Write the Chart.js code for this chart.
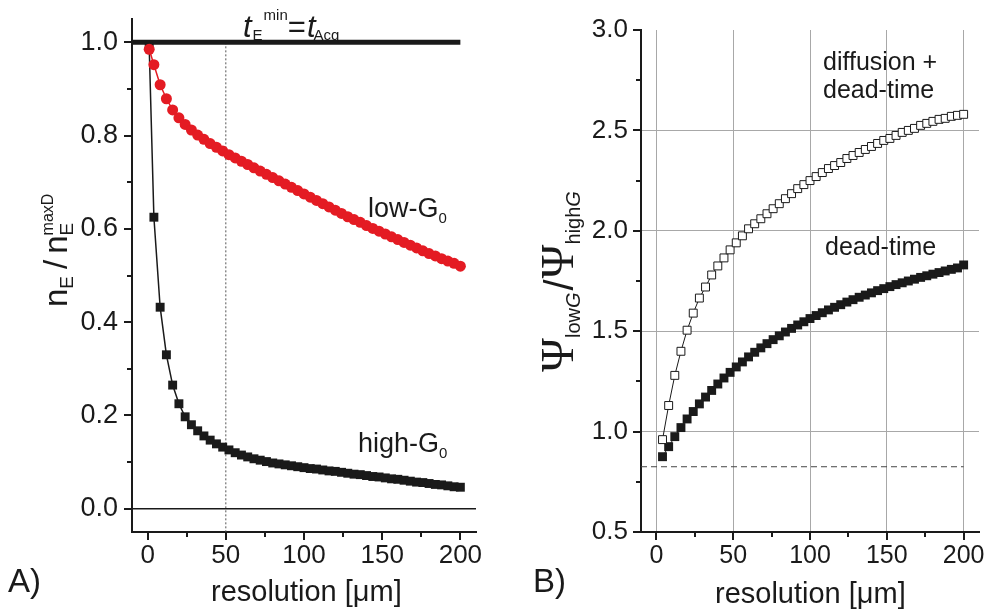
<!DOCTYPE html>
<html>
<head>
<meta charset="utf-8">
<script src="https://cdn.jsdelivr.net/npm/chart.js@4.4.1/dist/chart.umd.min.js"></script>
<style>
  body { margin: 0; background: #fff; }
  #wrap { position: relative; width: 986px; height: 613px; }
  .panel { position: absolute; top: 0; width: 493px; height: 613px; }
</style>
</head>
<body>
<div id="wrap">
  <div class="panel" style="left:0"><canvas id="chartA" width="493" height="613"></canvas></div>
  <div class="panel" style="left:493px"><canvas id="chartB" width="493" height="613"></canvas></div>
</div>
<script>
// panel A: detected events relative to max (resolution in um)
const resA = [1, 4, 8, 12, 16, 20, 24, 28, 32, 36, 40, 44, 48, 52, 56, 60, 64, 68, 72, 76,
  80, 84, 88, 92, 96, 100, 104, 108, 112, 116, 120, 124, 128, 132, 136, 140, 144, 148, 152, 156,
  160, 164, 168, 172, 176, 180, 184, 188, 192, 196, 200]
const lowG0 = [0.985, 0.952, 0.909, 0.879, 0.855, 0.838, 0.824, 0.812, 0.801, 0.792, 0.783, 0.775, 0.767, 0.759, 0.752, 0.745, 0.738, 0.731, 0.724, 0.717,
  0.710, 0.703, 0.696, 0.689, 0.682, 0.675, 0.668, 0.661, 0.654, 0.647, 0.640, 0.633, 0.626, 0.620, 0.614, 0.607, 0.601, 0.595, 0.589, 0.583,
  0.577, 0.571, 0.565, 0.559, 0.553, 0.547, 0.542, 0.536, 0.531, 0.526, 0.520]
const highG0 = [0.99, 0.625, 0.432, 0.330, 0.265, 0.225, 0.197, 0.180, 0.167, 0.156, 0.147, 0.139, 0.132, 0.126, 0.120, 0.115, 0.111, 0.107, 0.104, 0.101,
  0.098, 0.096, 0.094, 0.092, 0.090, 0.088, 0.086, 0.085, 0.083, 0.081, 0.080, 0.078, 0.076, 0.074, 0.073, 0.071, 0.069, 0.068, 0.066, 0.064,
  0.063, 0.061, 0.059, 0.057, 0.056, 0.054, 0.052, 0.051, 0.049, 0.047, 0.046]

// panel B: psi ratio low/high G
const resB = [4, 8, 12, 16, 20, 24, 28, 32, 36, 40, 44, 48, 52, 56, 60, 64, 68, 72, 76, 80,
  84, 88, 92, 96, 100, 104, 108, 112, 116, 120, 124, 128, 132, 136, 140, 144, 148, 152, 156, 160,
  164, 168, 172, 176, 180, 184, 188, 192, 196, 200]
const diffDead = [0.96, 1.13, 1.28, 1.40, 1.505, 1.59, 1.665, 1.72, 1.78, 1.825, 1.865, 1.905, 1.94, 1.975, 2.01, 2.035, 2.06, 2.085, 2.11, 2.135,
  2.16, 2.185, 2.21, 2.23, 2.25, 2.27, 2.29, 2.31, 2.325, 2.34, 2.36, 2.375, 2.39, 2.405, 2.42, 2.435, 2.45, 2.46, 2.475, 2.49,
  2.50, 2.51, 2.525, 2.535, 2.545, 2.555, 2.56, 2.57, 2.575, 2.58]
const deadTime = [0.875, 0.925, 0.975, 1.02, 1.063, 1.10, 1.138, 1.172, 1.205, 1.237, 1.267, 1.295, 1.322, 1.347, 1.372, 1.395, 1.417, 1.438, 1.458, 1.477,
  1.496, 1.514, 1.531, 1.547, 1.563, 1.578, 1.592, 1.606, 1.619, 1.632, 1.645, 1.657, 1.669, 1.68, 1.691, 1.702, 1.712, 1.722, 1.732, 1.741,
  1.75, 1.759, 1.768, 1.776, 1.784, 1.792, 1.8, 1.808, 1.815, 1.83]

// reference lines
const acqLevel = 1.0
const zeroLevel = 0
const cutoffRes = 50
const deadLimit = 0.825

// ticks
const xMajor = [0, 50, 100, 150, 200]
const xMinor = [25, 75, 125, 175]
const yMajorA = [0, 0.2, 0.4, 0.6, 0.8, 1.0]
const yMinorA = [0.1, 0.3, 0.5, 0.7, 0.9]
const yMajorB = [0.5, 1.0, 1.5, 2.0, 2.5, 3.0]
const yMinorB = [0.75, 1.25, 1.75, 2.25, 2.75]

const FONT = '"Liberation Sans", Arial, sans-serif'
const SERIF = '"Liberation Serif", "DejaVu Serif", serif'
const INK = '#1a1a1a'

const pts = (xs, ys) => xs.map((x, i) => ({ x: x, y: ys[i] }))
const withTicks = (major, minor) => (s) => {
    s.ticks = major.concat(minor).sort((a, b) => a - b).map(v => ({ value: v }))
}
const near = (arr, v) => arr.some(a => Math.abs(a - v) < 1e-6)

// draw text runs along a baseline, with sub/superscripts
function drawRuns(ctx, x, y, runs) {
    let cx = x
    runs.forEach(r => {
        ctx.font = (r.italic ? 'italic ' : '') + r.size + 'px ' + (r.family || FONT)
        ctx.fillText(r.text, cx, y + (r.shift || 0))
        if (!r.stack) cx += ctx.measureText(r.text).width + (r.gap || 0)
    })
}

// minor + major tick marks, outward
const makeTicks = (yMajor, yMinor) => ({
    id: 'tickMarks',
    afterDraw(chart) {
        const ctx = chart.ctx
        const xs = chart.scales.x, ys = chart.scales.y
        const area = chart.chartArea
        ctx.save()
        ctx.strokeStyle = INK
        ctx.lineWidth = 2
        ctx.beginPath()
        xMajor.concat(xMinor).forEach(v => {
            const px = Math.round(xs.getPixelForValue(v))
            const len = near(xMajor, v) ? 8 : 5
            ctx.moveTo(px, area.bottom)
            ctx.lineTo(px, area.bottom + len)
        })
        yMajor.concat(yMinor).forEach(v => {
            const py = Math.round(ys.getPixelForValue(v))
            const len = near(yMajor, v) ? 8 : 5
            ctx.moveTo(area.left, py)
            ctx.lineTo(area.left - len, py)
        })
        ctx.stroke()
        ctx.restore()
    }
})

// plain object kept out of chart options (the option resolver mangles it)
const makeLabels = (items) => ({
    id: 'labels',
    afterDraw(chart) {
        const ctx = chart.ctx
        ctx.save()
        ctx.fillStyle = INK
        ctx.textBaseline = 'alphabetic'
        ctx.textAlign = 'left'
        items.forEach(it => {
            ctx.save()
            ctx.translate(it.x, it.y)
            if (it.rotate) ctx.rotate(-Math.PI / 2)
            drawRuns(ctx, 0, 0, it.runs)
            ctx.restore()
        })
        ctx.restore()
    }
})

function axes(yMin, yMax, yMajor, yMinor, yWidth, fonts, grid) {
    return {
        x: {
            type: 'linear', min: -10, max: 210,
            afterBuildTicks: withTicks(xMajor, xMinor),
            afterFit: (s) => { s.height = 60; s.paddingLeft = 0; s.paddingRight = 0 },
            ticks: {
                autoSkip: false, maxRotation: 0, padding: fonts.xPad, color: INK,
                font: { family: FONT, size: fonts.x },
                callback: (v) => near(xMajor, v) ? String(v) : ''
            },
            grid: {
                display: grid, drawTicks: false, lineWidth: 1,
                color: (c) => c.tick && near(xMajor, c.tick.value) ? '#a8a8a8' : 'rgba(0,0,0,0)'
            },
            border: { display: true, color: INK, width: 2 }
        },
        y: {
            type: 'linear', min: yMin, max: yMax,
            afterBuildTicks: withTicks(yMajor, yMinor),
            afterFit: (s) => { s.width = yWidth; s.paddingTop = 0; s.paddingBottom = 0 },
            ticks: {
                autoSkip: false, padding: fonts.yPad, color: INK,
                font: { family: FONT, size: fonts.y },
                callback: (v) => near(yMajor, v) ? v.toFixed(1) : ''
            },
            grid: {
                display: grid, drawTicks: false, lineWidth: 1,
                color: (c) => c.tick && near(yMajor, c.tick.value) && c.tick.value > yMin && c.tick.value < yMax ? '#a8a8a8' : 'rgba(0,0,0,0)'
            },
            border: { display: true, color: INK, width: 2 }
        }
    }
}

const textA = [
    { x: 243, y: 37, runs: [
        { text: 't', size: 31, italic: true, gap: 1 },
        { text: 'E', size: 15, shift: 3, gap: 1 },
        { text: 'min', size: 15, shift: -17 },
        { text: '=', size: 31, gap: 1 },
        { text: 't', size: 31, italic: true, gap: -2 },
        { text: 'Acq', size: 15, shift: 3 }
    ] },
    { x: 368, y: 217, runs: [
        { text: 'low-G', size: 27 },
        { text: '0', size: 15, shift: 6 }
    ] },
    { x: 358, y: 452, runs: [
        { text: 'high-G', size: 27 },
        { text: '0', size: 15, shift: 6 }
    ] },
    { x: 67, y: 307, rotate: true, runs: [
        { text: 'n', size: 33 },
        { text: 'E', size: 19, shift: 6, gap: 7 },
        { text: '/', size: 33, gap: 6 },
        { text: 'n', size: 33 },
        { text: 'E', size: 19, shift: 6, stack: true },
        { text: 'maxD', size: 16, shift: -14 }
    ] },
    { x: 211, y: 601, runs: [{ text: 'resolution [\u03bcm]', size: 29 }] },
    { x: 8, y: 592, runs: [{ text: 'A)', size: 33 }] }
]

const textB = [
    { x: 330, y: 70, runs: [{ text: 'diffusion +', size: 25 }] },
    { x: 330, y: 98, runs: [{ text: 'dead-time', size: 25 }] },
    { x: 332, y: 255, runs: [{ text: 'dead-time', size: 25 }] },
    { x: 80, y: 372, rotate: true, runs: [
        { text: '\u03a8', size: 46, family: SERIF },
        { text: 'low', size: 20, shift: 7 },
        { text: 'G', size: 20, italic: true, shift: 7, gap: 2 },
        { text: '/', size: 40, gap: 1 },
        { text: '\u03a8', size: 46, family: SERIF },
        { text: 'high', size: 20, shift: 7 },
        { text: 'G', size: 20, italic: true, shift: 7 }
    ] },
    { x: 222, y: 603, runs: [{ text: 'resolution [\u03bcm]', size: 29 }] },
    { x: 40, y: 592, runs: [{ text: 'B)', size: 33 }] }
]

new Chart(document.getElementById('chartA'), {
    type: 'line',
    data: {
        datasets: [
            {
                label: 'low-G0', data: pts(resA, lowG0),
                borderColor: '#e41b23', borderWidth: 1.5,
                pointStyle: 'circle', pointRadius: 5.5, pointBackgroundColor: '#e41b23', pointBorderWidth: 0
            },
            {
                label: 'high-G0', data: pts(resA, highG0),
                borderColor: INK, borderWidth: 1.5,
                pointStyle: 'rect', pointRadius: 6.3, pointBackgroundColor: INK, pointBorderWidth: 0
            },
            {
                label: 'tAcq', data: [{ x: -10, y: acqLevel }, { x: 200, y: acqLevel }],
                borderColor: INK, borderWidth: 5, pointRadius: 0
            },
            {
                label: 'zero', data: [{ x: -10, y: zeroLevel }, { x: 210, y: zeroLevel }],
                borderColor: INK, borderWidth: 1.5, pointRadius: 0
            },
            {
                label: 'cutoff', data: [{ x: cutoffRes, y: acqLevel }, { x: cutoffRes, y: -0.05 }],
                borderColor: '#555', borderWidth: 1, borderDash: [2, 2], pointRadius: 0
            }
        ]
    },
    options: {
        responsive: false,
        animation: false,
        layout: { autoPadding: false, padding: { left: 0, top: 19, right: 17, bottom: 21 } },
        scales: axes(-0.05, 1.05, yMajorA, yMinorA, 132, { x: 26, y: 27, xPad: 8, yPad: 14 }, false),
        plugins: { legend: { display: false }, tooltip: { enabled: false } }
    },
    plugins: [makeTicks(yMajorA, yMinorA), makeLabels(textA)]
})

new Chart(document.getElementById('chartB'), {
    type: 'line',
    data: {
        datasets: [
            {
                label: 'diffusion + dead-time', data: pts(resB, diffDead),
                borderColor: INK, borderWidth: 1,
                pointStyle: 'rect', pointRadius: 5.6, pointBackgroundColor: '#fff', pointBorderColor: INK, pointBorderWidth: 1
            },
            {
                label: 'dead-time', data: pts(resB, deadTime),
                borderColor: INK, borderWidth: 1,
                pointStyle: 'rect', pointRadius: 6.3, pointBackgroundColor: INK, pointBorderWidth: 0
            },
            {
                label: 'limit', data: [{ x: -10, y: deadLimit }, { x: 200, y: deadLimit }],
                borderColor: '#444', borderWidth: 1, borderDash: [6, 4], pointRadius: 0
            }
        ]
    },
    options: {
        responsive: false,
        animation: false,
        layout: { autoPadding: false, padding: { left: 0, top: 30, right: 7, bottom: 21 } },
        scales: axes(0.5, 3.0, yMajorB, yMinorB, 148, { x: 25, y: 26, xPad: 9, yPad: 13 }, true),
        plugins: { legend: { display: false }, tooltip: { enabled: false } }
    },
    plugins: [makeTicks(yMajorB, yMinorB), makeLabels(textB)]
})
</script>
</body>
</html>
